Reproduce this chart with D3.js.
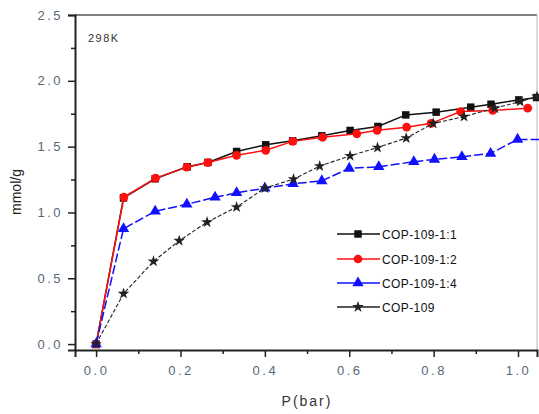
<!DOCTYPE html>
<html>
<head>
<meta charset="utf-8">
<script src="https://cdn.jsdelivr.net/npm/d3@7"></script>
<style>
  html, body { margin: 0; padding: 0; background: #fff; }
  svg { display: block; }
</style>
</head>
<body>
<svg id="chart" width="539" height="414"></svg>
<script>
// ---- data ----
const seriesNames = ["COP-109-1:1", "COP-109-1:2", "COP-109-1:4", "COP-109"];

const p11 = [0, 0.065, 0.14, 0.216, 0.265, 0.333, 0.402, 0.466, 0.535, 0.602, 0.668, 0.734, 0.806, 0.888, 0.936, 1.002, 1.044];
const v11 = [0, 1.11, 1.256, 1.347, 1.38, 1.463, 1.514, 1.544, 1.582, 1.623, 1.653, 1.741, 1.762, 1.80, 1.822, 1.855, 1.873];

const p12 = [0, 0.066, 0.141, 0.215, 0.265, 0.333, 0.402, 0.466, 0.537, 0.618, 0.666, 0.736, 0.794, 0.864, 0.940, 1.023];
const v12 = [0, 1.117, 1.261, 1.344, 1.379, 1.434, 1.472, 1.540, 1.571, 1.597, 1.624, 1.648, 1.677, 1.766, 1.775, 1.792];

const p14 = [0, 0.065, 0.140, 0.215, 0.282, 0.333, 0.400, 0.467, 0.535, 0.600, 0.670, 0.753, 0.802, 0.867, 0.935, 0.999, 1.07];
const v14 = [0, 0.876, 1.009, 1.062, 1.115, 1.149, 1.184, 1.218, 1.240, 1.335, 1.347, 1.385, 1.403, 1.423, 1.448, 1.555, 1.555];

const p109 = [0, 0.065, 0.136, 0.197, 0.263, 0.333, 0.400, 0.468, 0.530, 0.602, 0.667, 0.735, 0.799, 0.872, 0.945, 1.005, 1.045];
const v109 = [0, 0.383, 0.628, 0.785, 0.926, 1.041, 1.185, 1.253, 1.352, 1.430, 1.493, 1.565, 1.676, 1.728, 1.792, 1.842, 1.880];

const xTicks = [0.0, 0.2, 0.4, 0.6, 0.8, 1.0];
const xMinor = [0.1, 0.3, 0.5, 0.7, 0.9];
const yTicks = [0.0, 0.5, 1.0, 1.5, 2.0, 2.5];
const yMinor = [0.25, 0.75, 1.25, 1.75, 2.25];

// ---- layout ----
const svg = d3.select("#chart");
const L = 75, R = 537, T = 15, B = 350;
const x = d3.scaleLinear().domain([-0.05, 1.045]).range([L, R]);
const y = d3.scaleLinear().domain([-0.045, 2.5]).range([B, T]);

const tickColor = "#56687a";
const font = "'Liberation Sans', Arial, sans-serif";

svg.append("defs").append("clipPath").attr("id", "clip")
  .append("rect").attr("x", L).attr("y", T - 6).attr("width", R - L + 6).attr("height", B - T + 6);

// frame (top & right)
svg.append("line").attr("x1", L).attr("x2", R).attr("y1", T).attr("y2", T)
  .attr("stroke", "#555").attr("stroke-width", 1.5);
svg.append("line").attr("x1", R).attr("x2", R).attr("y1", T).attr("y2", B)
  .attr("stroke", "#bbb").attr("stroke-width", 1);

// axes
const yAxis = d3.axisLeft(y).tickValues(yTicks).tickFormat(d3.format(".1f")).tickSize(7).tickPadding(5);
svg.append("g").attr("transform", `translate(${L},0)`).call(yAxis);
const yAxisMinor = d3.axisLeft(y).tickValues(yMinor).tickFormat("").tickSize(4);
svg.append("g").attr("transform", `translate(${L},0)`).call(yAxisMinor)
  .call(g => g.select(".domain").remove());

const xAxis = d3.axisBottom(x).tickValues(xTicks).tickFormat(d3.format(".1f")).tickSize(7).tickPadding(9);
svg.append("g").attr("transform", `translate(0,${B})`).call(xAxis);
const xAxisMinor = d3.axisBottom(x).tickValues(xMinor).tickFormat("").tickSize(4);
svg.append("g").attr("transform", `translate(0,${B})`).call(xAxisMinor)
  .call(g => g.select(".domain").remove());

svg.selectAll(".domain").attr("stroke", "#222").attr("stroke-width", 2);
svg.selectAll(".tick line").attr("stroke", "#222").attr("stroke-width", 1.5);
svg.selectAll(".tick text")
  .attr("fill", tickColor).style("font-family", font).style("font-size", "13px")
  .style("letter-spacing", "2.5px");

// axis titles
svg.append("text").attr("transform", "translate(21,192) rotate(-90)")
  .attr("text-anchor", "middle").style("font-family", font).style("font-size", "14px")
  .attr("fill", "#222").text("mmol/g");
svg.append("text").attr("x", 307).attr("y", 406).attr("text-anchor", "middle")
  .style("font-family", font).style("font-size", "14px").style("letter-spacing", "2px")
  .attr("fill", "#333").text("P(bar)");

svg.append("text").attr("x", 88).attr("y", 42)
  .style("font-family", font).style("font-size", "11px").style("letter-spacing", "1.5px")
  .attr("fill", "#333").text("298K");

// ---- series ----
const series = [
  { name: seriesNames[0], p: p11, v: v11, color: "#111", dash: null, width: 1.5, sym: d3.symbolSquare, size: 56 },
  { name: seriesNames[1], p: p12, v: v12, color: "#ff1010", dash: null, width: 1.5, sym: d3.symbolCircle, size: 60 },
  { name: seriesNames[2], p: p14, v: v14, color: "#1010ff", dash: "9,3", width: 1.5, sym: d3.symbolTriangle, size: 56 },
  { name: seriesNames[3], p: p109, v: v109, color: "#222", dash: "4,2", width: 1.1, sym: d3.symbolStar, size: 42 }
];

const plot = svg.append("g").attr("clip-path", "url(#clip)");
const line = d3.line().x(d => x(d[0])).y(d => y(d[1]));

series.forEach(s => {
  const pts = s.p.map((p, i) => [p, s.v[i]]);
  plot.append("path").datum(pts).attr("d", line)
    .attr("fill", "none").attr("stroke", s.color).attr("stroke-width", s.width)
    .attr("stroke-dasharray", s.dash);
  plot.selectAll(null).data(pts).enter().append("path")
    .attr("d", d3.symbol().type(s.sym).size(s.size))
    .attr("transform", d => `translate(${x(d[0])},${y(d[1])})`)
    .attr("fill", s.color);
});

// ---- legend ----
const legY = [234, 259, 283, 307];
series.forEach((s, i) => {
  const g = svg.append("g").attr("transform", `translate(0,${legY[i]})`);
  g.append("line").attr("x1", 337).attr("x2", 380).attr("y1", 0).attr("y2", 0)
    .attr("stroke", s.color).attr("stroke-width", 1.6);
  g.append("path").attr("d", d3.symbol().type(s.sym).size(s.size))
    .attr("transform", "translate(358,0)").attr("fill", s.color);
  g.append("text").attr("x", 382).attr("y", 4.5)
    .style("font-family", font).style("font-size", "12px").style("letter-spacing", "0.4px")
    .attr("fill", "#111").text(s.name);
});
</script>
</body>
</html>
